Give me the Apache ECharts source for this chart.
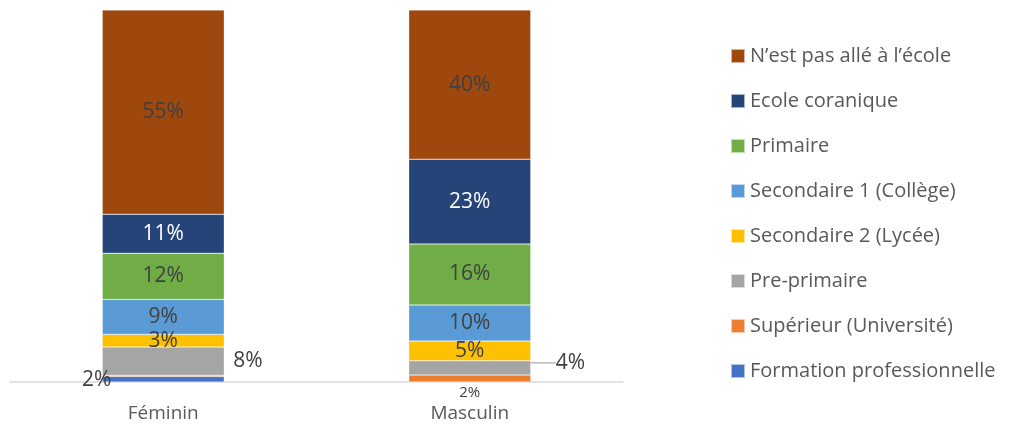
<!DOCTYPE html>
<html>
<head>
<meta charset="utf-8">
<script src="https://cdn.jsdelivr.net/npm/echarts@6/dist/echarts.min.js"></script>
<style>
  html, body { margin: 0; padding: 0; background: #fff; }
  #chart { width: 1011px; height: 427px; }
</style>
</head>
<body>
<div id="chart"></div>
<script>
// categories (x axis)
const categories = ['Féminin', 'Masculin']

// series names, bottom of the stack first
const seriesNames = [
  'Formation professionnelle',
  'Supérieur (Université)',
  'Pre-primaire',
  'Secondaire 2 (Lycée)',
  'Secondaire 1 (Collège)',
  'Primaire',
  'Ecole coranique',
  'N\u2019est pas allé à l\u2019école'
]

// values in % : [Féminin, Masculin]
const formation = [1.5, 0]
const superieur = [0.3, 1.9]
const prePrimaire = [7.6, 3.8]
const lycee = [3.4, 5.3]
const college = [9.4, 9.7]
const primaire = [12.4, 16.4]
const coranique = [10.5, 22.8]
const pasEcole = [54.9, 40.1]

const values = [formation, superieur, prePrimaire, lycee, college, primaire, coranique, pasEcole]

const colors = ['#4472C4', '#ED7D31', '#A5A5A5', '#FFC000', '#5B9BD5', '#70AD47', '#264478', '#9E480E']

const FONT = 'Open Sans'

// label settings for a given segment
function labelFor(s, c) {
  const base = {
    show: true,
    position: 'inside',
    fontFamily: FONT,
    fontSize: 21,
    color: s === 6 ? '#fff' : '#404040',
    formatter: p => Math.round(p.value) + '%'
  }
  if (s === 0 && c === 0) return { ...base, position: 'left', distance: 5, offset: [14, 1] }
  if (s === 1 && c === 1) return { ...base, position: 'bottom', distance: 3, fontSize: 15 }
  if (s === 2) return { ...base, position: 'right', distance: 9 }
  if (values[s][c] < 1) return { show: false }
  return base
}

const chart = echarts.init(document.getElementById('chart'))

const series = seriesNames.map((name, s) => ({
  name,
  type: 'bar',
  stack: 'total',
  barWidth: 122,
  itemStyle: { color: colors[s], borderColor: 'rgba(255,255,255,0.6)', borderWidth: 0.5 },
  labelLayout: s === 2 ? params => (params.dataIndex === 1 ? { dx: 16, dy: -5 } : {}) : undefined,
  data: values[s].map((v, c) => {
    const item = { value: v, label: labelFor(s, c) }
    // leader line only for the small Masculin pre-primaire label
    if (s === 2 && c === 1) item.labelLine = { show: true, lineStyle: { color: '#a5a5a5', width: 1.2 } }
    return item
  })
}))

chart.setOption({
  animation: false,
  color: colors,
  grid: { left: 10, right: 388, top: 10, bottom: 45, containLabel: false },
  legend: {
    orient: 'vertical',
    left: 730,
    top: 46,
    padding: 0,
    itemWidth: 14,
    itemHeight: 14,
    itemGap: 25,
    icon: 'rect',
    textStyle: { fontFamily: FONT, fontSize: 20, color: '#595959' },
    data: seriesNames.slice().reverse()
  },
  xAxis: {
    type: 'category',
    data: categories,
    axisTick: { show: false },
    axisLine: { lineStyle: { color: '#d9d9d9', width: 1.5 } },
    axisLabel: { fontFamily: FONT, fontSize: 19, color: '#595959', margin: 22 }
  },
  yAxis: {
    type: 'value',
    min: 0,
    max: 100,
    show: false
  },
  series
})
</script>
</body>
</html>
